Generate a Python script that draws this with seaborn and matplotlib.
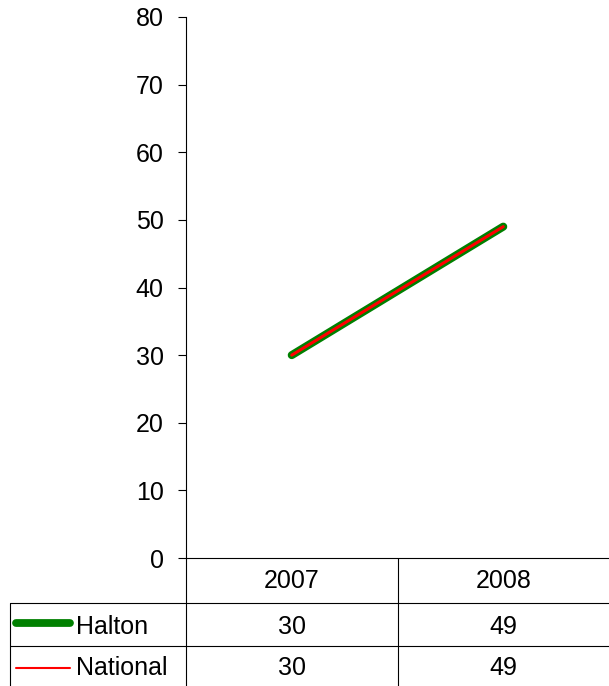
import numpy as np
import pandas as pd
import matplotlib
matplotlib.use('Agg')
import matplotlib.pyplot as plt
import seaborn as sns

years = ['2007', '2008']
halton = [30, 49]
national = [30, 49]
yticks = list(range(0, 90, 10))

sns.set_style('white')
plt.rcParams['font.family'] = ['Liberation Sans', 'DejaVu Sans']
plt.rcParams['text.color'] = 'black'
plt.rcParams['ytick.labelcolor'] = 'black'

W, H = 609, 686
FS = 18
fig = plt.figure(figsize=(W / 100, H / 100), dpi=100)

# plot area in pixel terms
left, right, top, bottom = 186, 609, 17, 558
ax = fig.add_axes([left / W, (H - bottom) / H, (right - left) / W, (bottom - top) / H])

x = np.arange(len(years))
sns.lineplot(x=x, y=halton, ax=ax, color='#008000', linewidth=5.8,
             solid_capstyle='round')
sns.lineplot(x=x, y=national, ax=ax, color='#ff0000', linewidth=2.2,
             solid_capstyle='round')

ax.set_xlim(-0.5, len(years) - 0.5)
ax.set_ylim(0, 80)
ax.set_yticks(yticks)
ax.set_yticklabels([str(t) for t in yticks], fontsize=FS, color='black')
ax.set_xticks([])
for s in ['top', 'right']:
    ax.spines[s].set_visible(False)
for s in ['left', 'bottom']:
    ax.spines[s].set_color('black')
    ax.spines[s].set_linewidth(0.8)
ax.tick_params(axis='y', left=True, length=6, width=0.8, color='black', pad=10)
ax.set_xlabel('')
ax.set_ylabel('')

# data table below the plot
tab = fig.add_axes([0, 0, 1, (H - bottom) / H])
tab.set_xlim(0, W)
tab.set_ylim(H, bottom)
tab.axis('off')
col_w = (right - left) / len(years)
rows = [bottom, 603, 646, H]
lc = dict(color='black', linewidth=0.8)
tab.plot([10, right], [rows[1], rows[1]], **lc)
tab.plot([10, right], [rows[2], rows[2]], **lc)
tab.plot([left, left], [bottom, H], **lc)
tab.plot([10, 10], [rows[1], H], **lc)
for i in range(1, len(years)):
    xx = left + i * col_w
    tab.plot([xx, xx], [bottom, H], **lc)

for i, yr in enumerate(years):
    cx = left + (i + 0.5) * col_w
    tab.text(cx, (rows[0] + rows[1]) / 2 + 1, yr, ha='center', va='center', fontsize=FS)
    tab.text(cx, (rows[1] + rows[2]) / 2 + 2, str(halton[i]), ha='center', va='center', fontsize=FS)
    tab.text(cx, (rows[2] + rows[3]) / 2 + 2, str(national[i]), ha='center', va='center', fontsize=FS)

tab.plot([16, 70], [623, 623], color='#008000', linewidth=5.6, solid_capstyle='round')
tab.text(76, 627, 'Halton', ha='left', va='center', fontsize=FS)
tab.plot([16, 70], [668, 668], color='#ff0000', linewidth=1.5)
tab.text(76, 668, 'National', ha='left', va='center', fontsize=FS)

fig.savefig('out.png', dpi=100)
